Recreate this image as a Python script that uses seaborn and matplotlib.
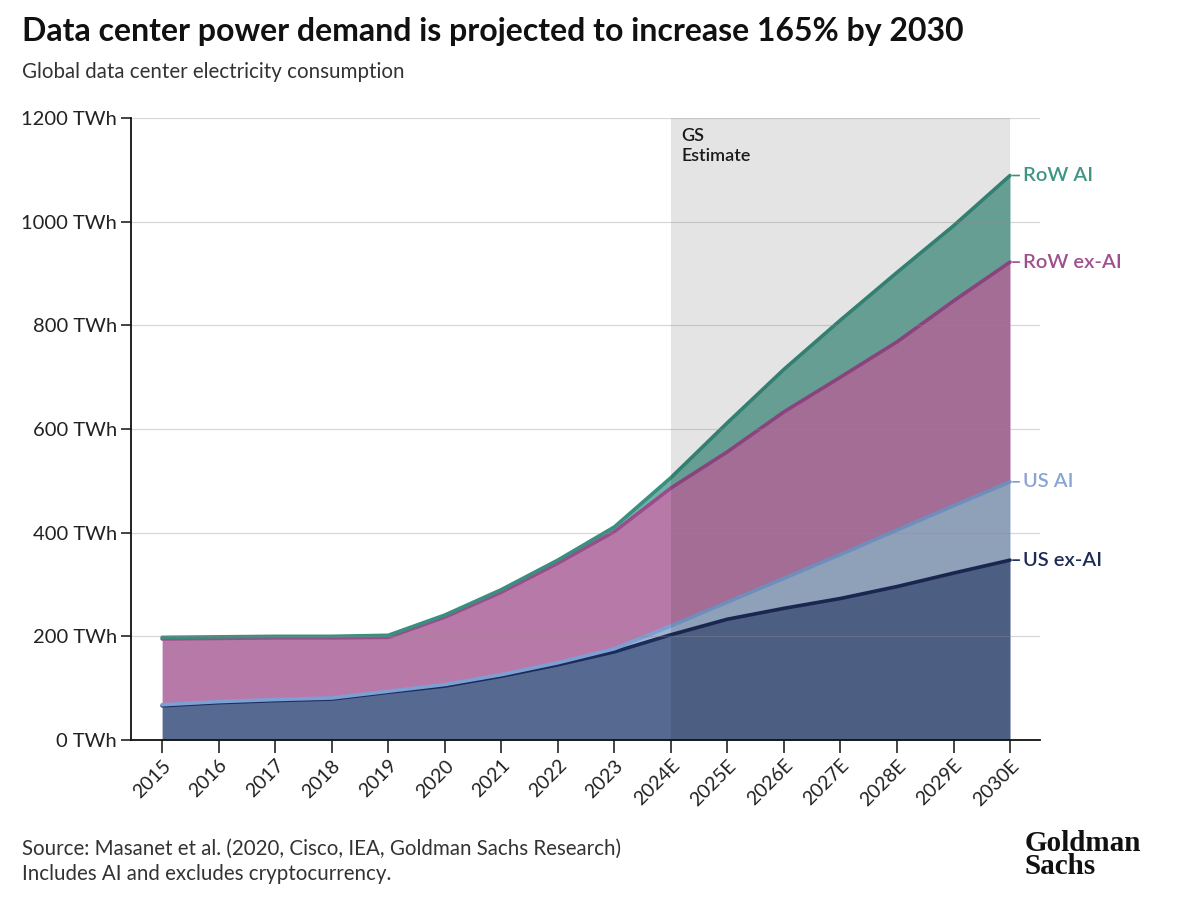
import numpy as np
import matplotlib
matplotlib.use("Agg")
import matplotlib.pyplot as plt
import seaborn as sns
import pandas as pd

# ---- data (TWh per layer) ----
years = ['2015', '2016', '2017', '2018', '2019', '2020', '2021', '2022', '2023',
         '2024E', '2025E', '2026E', '2027E', '2028E', '2029E', '2030E']
us_ex_ai = [66, 72, 76, 79, 92, 104, 123, 145, 170, 203, 233, 254, 273, 296, 322, 347]
us_ai = [2, 2, 2, 2, 2, 3, 3, 4, 6, 17, 33, 58, 85, 109, 130, 151]
row_ex_ai = [127, 122, 119, 116, 104, 130, 159, 192, 226, 266, 290, 321, 342, 363, 395, 424]
row_ai = [3, 3, 3, 3, 4, 4, 5, 6, 9, 20, 56, 82, 110, 134, 145, 167]
series_names = ['US ex-AI', 'US AI', 'RoW ex-AI', 'RoW AI']
estimate_start = '2024E'
y_ticks = [0, 200, 400, 600, 800, 1000, 1200]

fill_colors = ['#566a91', '#a0b3cf', '#b77aa8', '#73b1a6']
line_colors = ['#1b2b5a', '#7d9fd3', '#9a4d8c', '#3a8f7f']
label_colors = ['#1d2b55', '#8aa5d4', '#a04f8e', '#3f9585']

sns.set_theme(style="white")
plt.rcParams['font.family'] = ['Lato', 'DejaVu Sans']

fig = plt.figure(figsize=(11.92, 9.18), dpi=100)
ax = fig.add_axes([0.1099, 0.1939, 0.7626, 0.6776])

x = np.arange(len(years))
layers = [us_ex_ai, us_ai, row_ex_ai, row_ai]
tops = np.cumsum(np.array(layers), axis=0)
bottoms = np.vstack([np.zeros(len(years)), tops[:-1]])

# stacked areas
for i, name in enumerate(series_names):
    ax.fill_between(x, bottoms[i], tops[i], color=fill_colors[i], lw=0, zorder=1)

# boundary lines
df = pd.DataFrame({'x': np.tile(x, 4),
                   'value': tops.ravel(),
                   'series': np.repeat(series_names, len(years))})
sns.lineplot(data=df, x='x', y='value', hue='series', palette=dict(zip(series_names, line_colors)),
             linewidth=2.6, legend=False, ax=ax, zorder=2)

# estimate shading (darkens what sits below)
x0 = years.index(estimate_start)
ax.axvspan(x0, len(years) - 1, ymin=0, ymax=1, color='black', alpha=0.105, lw=0, zorder=3)
ax.text(x0 + 0.18, 1180, 'GS\nEstimate', ha='left', va='top', fontsize=13,
        fontweight='semibold', color='#1a1a1a', linespacing=1.25, zorder=5)

# gridlines on top
for yt in y_ticks:
    ax.axhline(yt, color='#8c8c8c', alpha=0.35, lw=0.9, zorder=4)

# end labels
for i, name in enumerate(series_names):
    ax.annotate(name, xy=(x[-1], tops[i][-1]), xytext=(9, 0), textcoords='offset points',
                va='center', ha='left', fontsize=14.5, fontweight='semibold', color=label_colors[i],
                arrowprops=dict(arrowstyle='-', color=line_colors[i], lw=1.2,
                                shrinkA=0, shrinkB=2),
                annotation_clip=False, zorder=6)

ax.set_xlim(-0.55, 15.53)
ax.set_ylim(0, 1200)
ax.set_yticks(y_ticks)
ax.set_yticklabels([f'{v} TWh' for v in y_ticks])
ax.set_xticks(x)
ax.set_xticklabels(years, rotation=45, ha='right', rotation_mode='anchor')
ax.set_xlabel('')
ax.set_ylabel('')
for s in ['top', 'right']:
    ax.spines[s].set_visible(False)
for s in ['left', 'bottom']:
    ax.spines[s].set_color('#111111')
    ax.spines[s].set_linewidth(1.3)
    ax.spines[s].set_zorder(7)
ax.tick_params(axis='y', length=7, width=1.1, color='#111111', labelsize=14.5,
               labelcolor='#222222', pad=3, left=True)
ax.tick_params(axis='x', length=9, width=1.1, color='#111111', labelsize=14,
               labelcolor='#222222', pad=3, bottom=True)

# titles and footer
fig.text(0.0185, 1 - 32 / 918, 'Data center power demand is projected to increase 165% by 2030',
         fontsize=23, fontweight='bold', color='#111111', va='center', ha='left')
fig.text(0.0185, 1 - 72 / 918, 'Global data center electricity consumption',
         fontsize=14.8, color='#333333', va='center', ha='left')
fig.text(0.0185, 1 - 849 / 918, 'Source: Masanet et al. (2020, Cisco, IEA, Goldman Sachs Research)',
         fontsize=14.8, color='#333333', va='center', ha='left')
fig.text(0.0185, 1 - 874 / 918, 'Includes AI and excludes cryptocurrency.',
         fontsize=14.8, color='#333333', va='center', ha='left')
fig.text(1025 / 1192, 1 - 830 / 918, 'Goldman\nSachs', fontsize=21, fontweight='bold',
         family='Liberation Serif', color='#111111', va='top', ha='left', linespacing=0.82)

fig.savefig('out.png', dpi=100)
